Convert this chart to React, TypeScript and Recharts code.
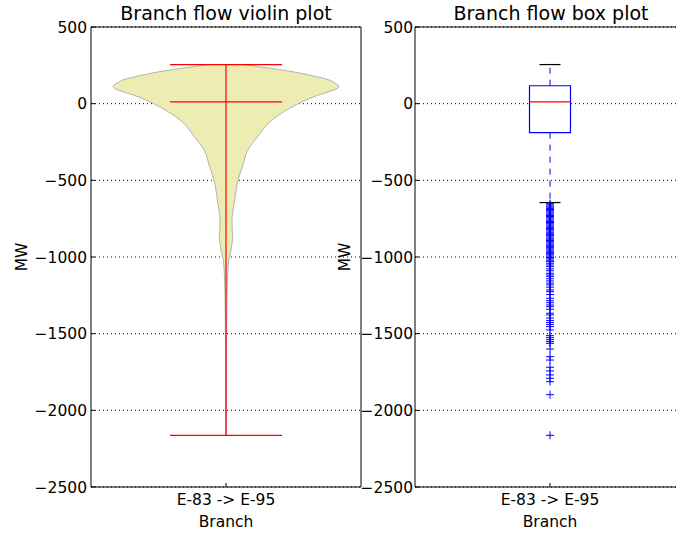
import {
  ComposedChart,
  Area,
  Scatter,
  XAxis,
  YAxis,
  CartesianGrid,
  ReferenceLine,
  ReferenceArea,
} from "recharts";

// category on the x axis of both panels
const category = "E-83 -> E-95";
const yTicks = [-2500, -2000, -1500, -1000, -500, 0, 500];

// violin outline: MW level and half width (in px-like units, x domain is [-135, 135])
const violinMW = [
  255, 230, 209, 180, 155, 130, 111, 95, 78, 55, 35, 2, -52, -117, -204, -313,
  -398, -498, -628, -759, -820, -868, -910, -954, -1020, -1106, -1237, -1400,
  -1600, -1800, -2000, -2163,
];
const violinHalfWidth = [
  17, 45, 66, 88, 103, 110, 113, 110, 103, 92, 84, 73, 58, 44, 33, 21, 17, 12,
  8.7, 6, 6.2, 6.7, 6, 5, 2.7, 1.7, 1, 0.7, 0.5, 0.4, 0.3, 0,
];

// summary stats
const flowMax = 255;
const flowMedian = 12;
const flowMin = -2163;
const q1 = -189;
const q3 = 117;
const whiskerLow = -645;
const whiskerHigh = 255;

// outliers below the lower whisker
const outliers = [
  -652, -660, -668, -675, -683, -690, -698, -706, -713, -721, -729, -736, -744,
  -752, -760, -768, -775, -783, -791, -799, -806, -814, -822, -830, -838, -845,
  -853, -861, -869, -877, -884, -892, -900, -908, -916, -923, -931, -939, -947,
  -955, -962, -970, -978, -986, -994, -1003, -1012, -1021, -1030, -1041, -1052,
  -1063, -1078, -1090, -1106, -1117, -1128, -1142, -1156, -1170, -1182, -1197,
  -1215, -1226, -1245, -1269, -1285, -1298, -1313, -1324, -1341, -1367, -1378,
  -1398, -1415, -1428, -1441, -1454, -1476, -1513, -1526, -1539, -1552, -1563,
  -1600, -1650, -1672, -1719, -1743, -1769, -1791, -1813, -1898, -2163,
];

const violinData = violinMW.map((mw, i) => ({
  mw,
  range: [-violinHalfWidth[i], violinHalfWidth[i]],
}));
const outlierData = outliers.map((mw) => ({ x: 0, mw }));

const FONT = "DejaVu Sans, sans-serif";
const fmt = (v: number) => (v < 0 ? "\u2212" + Math.abs(v) : String(v));
const tickStyle = { fill: "#000", fontSize: 15.5, fontFamily: FONT };

const CHART_W = 370;
const CHART_H = 533;
const margin = { top: 27, right: 9, bottom: 0, left: 0 };

const Plus = (props: any) => {
  const { cx, cy } = props;
  if (cx == null || cy == null) return null;
  return (
    <path
      d={`M${cx - 4},${cy}h8M${cx},${cy - 4}v8`}
      stroke="#0000ff"
      strokeWidth={1}
      fill="none"
    />
  );
};

function ViolinPanel() {
  return (
    <ComposedChart
      layout="vertical"
      width={CHART_W}
      height={CHART_H}
      data={violinData}
      margin={margin}
    >
      <CartesianGrid vertical={false} stroke="#000" strokeDasharray="1 3" />
      <XAxis
        type="number"
        domain={[-135, 135]}
        ticks={[0]}
        tickFormatter={() => category}
        height={46}
        tickSize={-4}
        tickMargin={11}
        tick={tickStyle}
        stroke="#000"
        axisLine={false}
        allowDataOverflow
      />
      <YAxis
        type="number"
        dataKey="mw"
        domain={[-2500, 500]}
        ticks={yTicks}
        tickFormatter={fmt}
        width={91}
        tickSize={-4}
        tickMargin={8}
        tick={tickStyle}
        stroke="#000"
        axisLine={false}
        reversed
        allowDataOverflow
      />
      <Area
        dataKey="range"
        type="monotone"
        fill="#ECECB3"
        fillOpacity={1}
        stroke="#B3B3B3"
        strokeWidth={1}
        dot={false}
        activeDot={false}
        isAnimationActive={false}
      />
      <ReferenceLine
        segment={[{ x: 0, y: flowMax }, { x: 0, y: flowMin }]}
        stroke="#ff0000"
        strokeWidth={1.2}
      />
      <ReferenceLine
        segment={[{ x: -56, y: flowMax }, { x: 56, y: flowMax }]}
        stroke="#ff0000"
        strokeWidth={1.2}
      />
      <ReferenceLine
        segment={[{ x: -56, y: flowMedian }, { x: 56, y: flowMedian }]}
        stroke="#ff0000"
        strokeWidth={1.2}
      />
      <ReferenceLine
        segment={[{ x: -56, y: flowMin }, { x: 56, y: flowMin }]}
        stroke="#ff0000"
        strokeWidth={1.2}
      />
      <ReferenceArea
        x1={-135}
        x2={135}
        y1={-2500}
        y2={500}
        fill="none"
        stroke="#000"
        strokeWidth={1}
      />
    </ComposedChart>
  );
}

function BoxPanel() {
  return (
    <ComposedChart width={CHART_W} height={CHART_H} margin={margin}>
      <CartesianGrid vertical={false} stroke="#000" strokeDasharray="1 3" />
      <XAxis
        type="number"
        dataKey="x"
        domain={[-135, 135]}
        ticks={[0]}
        tickFormatter={() => category}
        height={46}
        tickSize={-4}
        tickMargin={11}
        tick={tickStyle}
        stroke="#000"
        axisLine={false}
        allowDataOverflow
      />
      <YAxis
        type="number"
        dataKey="mw"
        domain={[-2500, 500]}
        ticks={yTicks}
        tickFormatter={fmt}
        width={91}
        tickSize={-4}
        tickMargin={6}
        tick={tickStyle}
        stroke="#000"
        axisLine={false}
        allowDataOverflow
      />
      <ReferenceLine
        segment={[{ x: 0, y: q3 }, { x: 0, y: whiskerHigh }]}
        stroke="#0000ff"
        strokeDasharray="6 6"
      />
      <ReferenceLine
        segment={[{ x: 0, y: q1 }, { x: 0, y: whiskerLow }]}
        stroke="#0000ff"
        strokeDasharray="6 6"
      />
      <ReferenceLine
        segment={[{ x: -10.5, y: whiskerHigh }, { x: 10.5, y: whiskerHigh }]}
        stroke="#000"
        strokeWidth={1.2}
      />
      <ReferenceLine
        segment={[{ x: -10.5, y: whiskerLow }, { x: 10.5, y: whiskerLow }]}
        stroke="#000"
        strokeWidth={1.2}
      />
      <ReferenceArea
        x1={-20.5}
        x2={20.5}
        y1={q1}
        y2={q3}
        fill="#fff"
        fillOpacity={1}
        stroke="#0000ff"
        strokeWidth={1.2}
      />
      <ReferenceLine
        segment={[{ x: -20.5, y: flowMedian }, { x: 20.5, y: flowMedian }]}
        stroke="#ff0000"
        strokeWidth={1.2}
      />
      <Scatter
        data={outlierData}
        dataKey="mw"
        shape={<Plus />}
        isAnimationActive={false}
      />
      <ReferenceArea
        x1={-135}
        x2={135}
        y1={-2500}
        y2={500}
        fill="none"
        stroke="#000"
        strokeWidth={1}
      />
    </ComposedChart>
  );
}

export default function App() {
  return (
    <div
      style={{
        position: "absolute",
        left: 0,
        top: 0,
        width: 676,
        height: 533,
        overflow: "hidden",
        background: "#fff",
        fontFamily: FONT,
      }}
    >
      <div style={{ position: "absolute", left: 0, top: 0 }}>
        <ViolinPanel />
      </div>
      <div style={{ position: "absolute", left: 324, top: 0 }}>
        <BoxPanel />
      </div>
      <svg
        width={676}
        height={533}
        style={{ position: "absolute", left: 0, top: 0, pointerEvents: "none" }}
        fontFamily={FONT}
      >
        <text x={226} y={20} fontSize={19} textAnchor="middle">
          Branch flow violin plot
        </text>
        <text x={551} y={20} fontSize={19} textAnchor="middle">
          Branch flow box plot
        </text>
        <text x={226} y={527} fontSize={15.5} textAnchor="middle">
          Branch
        </text>
        <text x={550} y={527} fontSize={15.5} textAnchor="middle">
          Branch
        </text>
        <text
          x={27}
          y={257}
          fontSize={15.5}
          textAnchor="middle"
          transform="rotate(-90 27 257)"
        >
          MW
        </text>
        <text
          x={350}
          y={257}
          fontSize={15.5}
          textAnchor="middle"
          transform="rotate(-90 350 257)"
        >
          MW
        </text>
      </svg>
    </div>
  );
}
